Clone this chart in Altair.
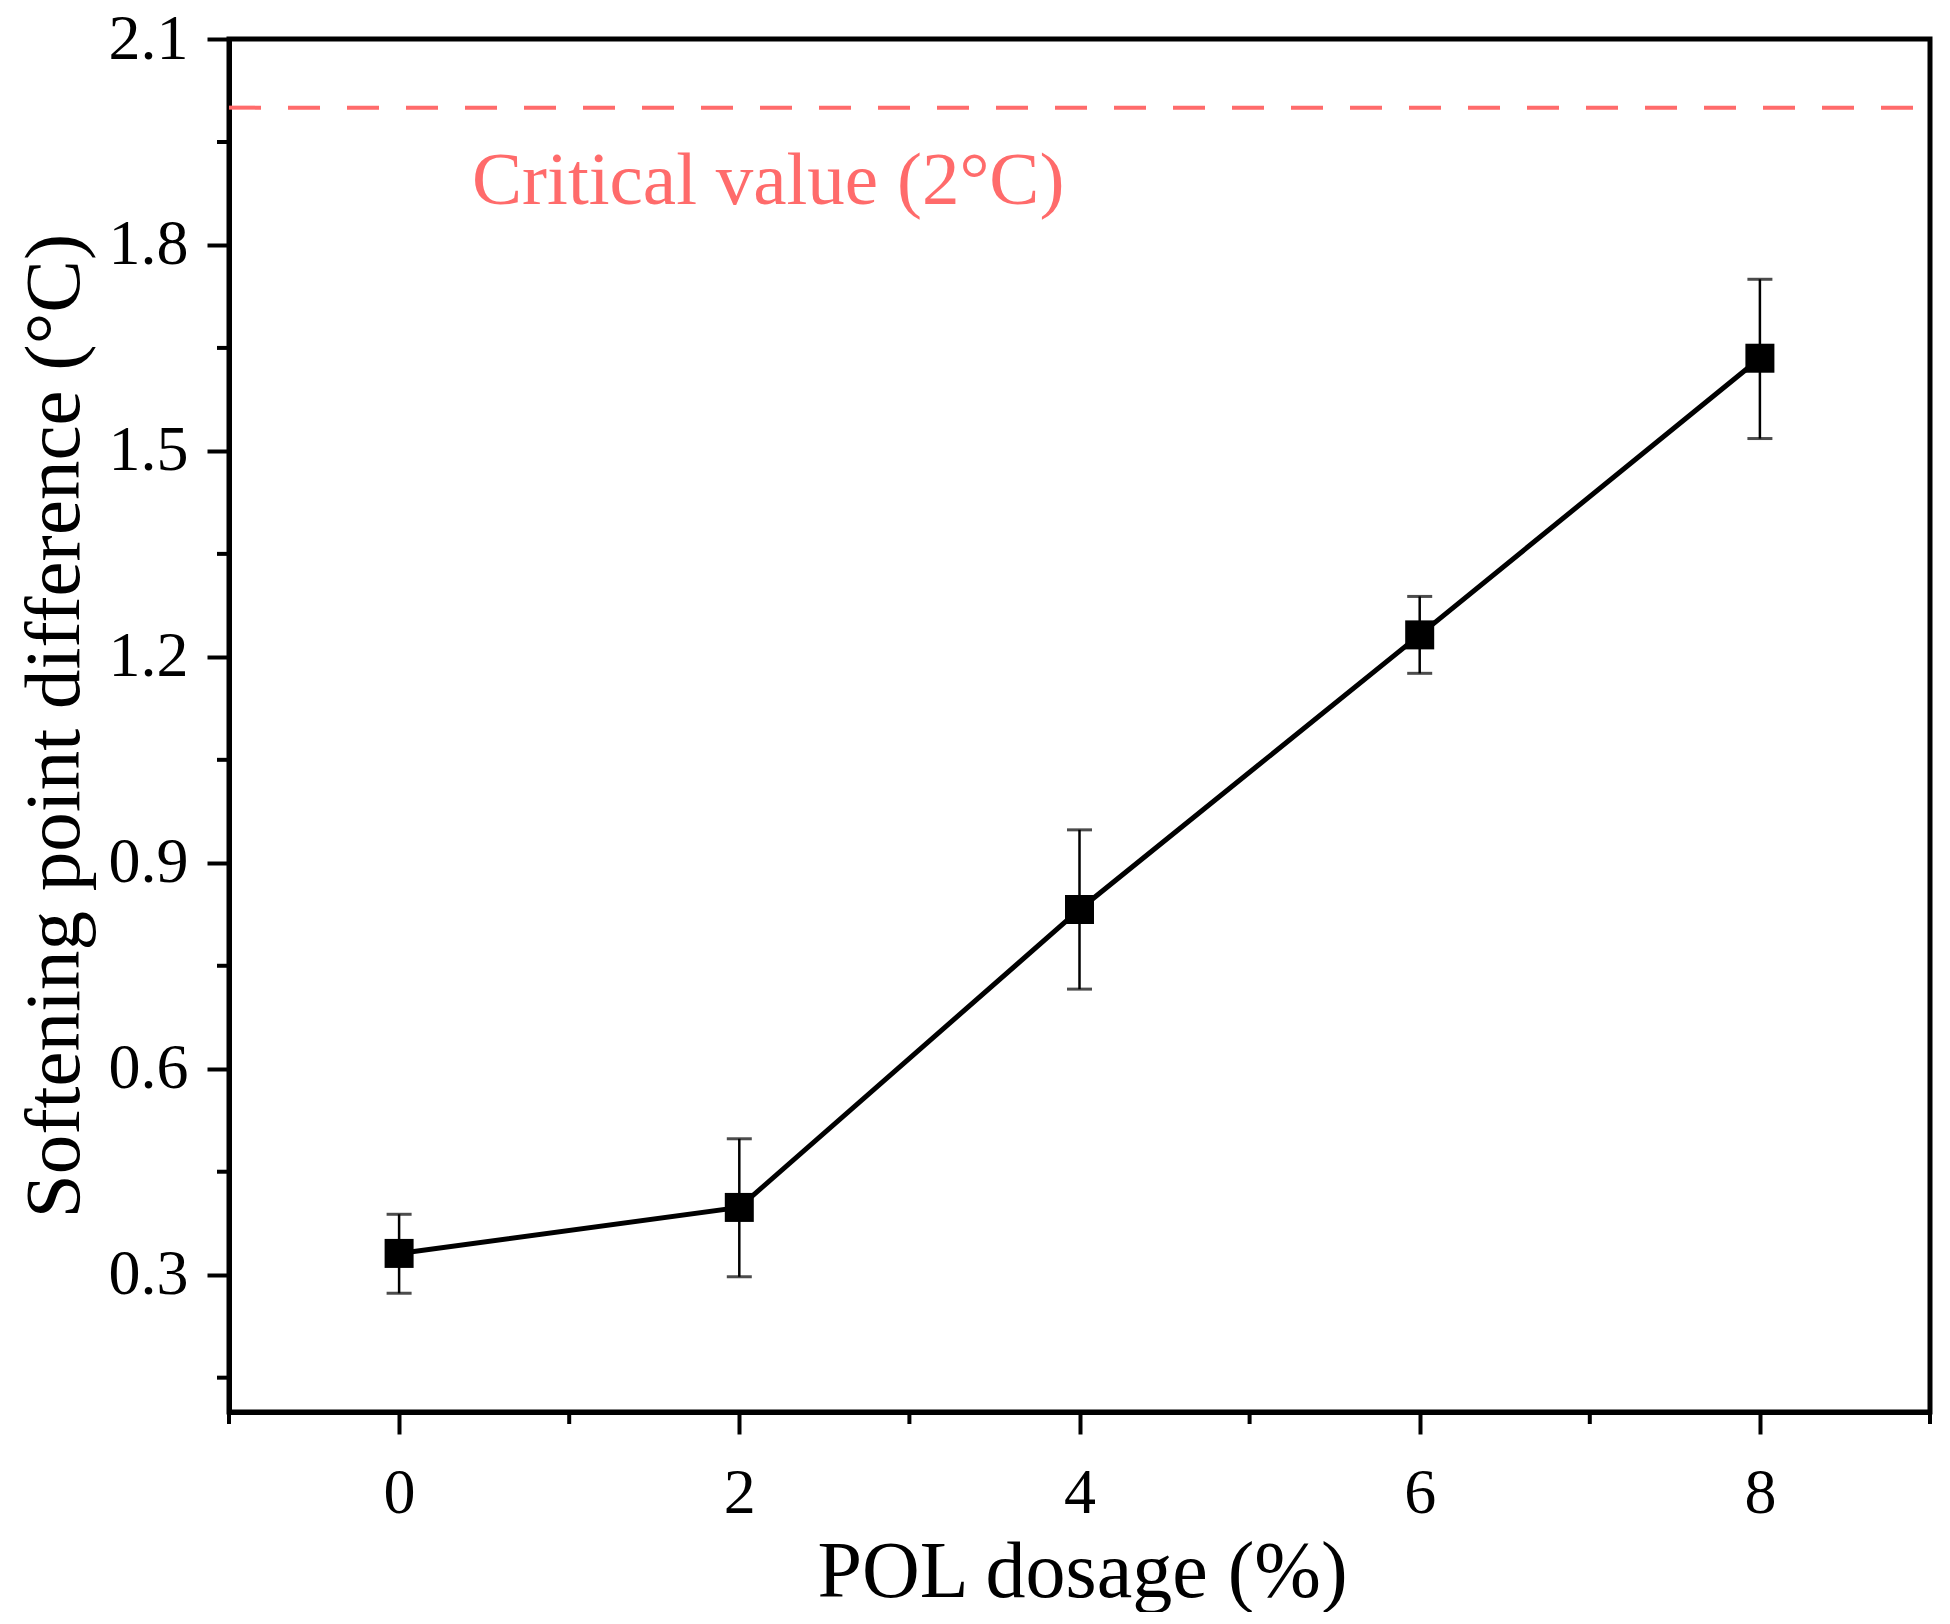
import altair as alt
import pandas as pd

# data
dosage = [0, 2, 4, 6, 8]
sp_diff = [0.331, 0.398, 0.832, 1.232, 1.635]
err_low = [0.273, 0.297, 0.716, 1.176, 1.518]
err_high = [0.388, 0.498, 0.948, 1.288, 1.750]

critical_value = [2.0]
critical_label = ["Critical value (2°C)"]
critical_label_x = [2.17]
critical_label_y = [1.893]

x_major = [0, 2, 4, 6, 8]
x_minor = [-1, 1, 3, 5, 7, 9]
y_major = [0.3, 0.6, 0.9, 1.2, 1.5, 1.8, 2.1]
y_minor = [0.15, 0.45, 0.75, 1.05, 1.35, 1.65, 1.95]

W, H = 1701, 1373
FONT = "Liberation Serif"
RED = "#FF6B6B"

df = pd.DataFrame({"x": dosage, "y": sp_diff, "lo": err_low, "hi": err_high})
crit = pd.DataFrame({"y": critical_value})
lab = pd.DataFrame({"x": critical_label_x, "y": critical_label_y, "t": critical_label})
xm = pd.DataFrame({"x": x_minor})
ym = pd.DataFrame({"y": y_minor})

xscale = alt.Scale(domain=[-1, 9], nice=False, zero=False)
yscale = alt.Scale(domain=[0.1, 2.1], nice=False, zero=False)

xaxis = alt.Axis(values=x_major, format="d", title="POL dosage (%)", grid=False,
                 tickSize=22, tickWidth=4, tickColor="black",
                 domainColor="black", domainWidth=5,
                 labelFont=FONT, labelFontSize=64, labelColor="black",
                 labelBaseline="alphabetic", labelPadding=78,
                 titleFont=FONT, titleFontSize=80, titleFontWeight="normal",
                 titleColor="black", titleBaseline="alphabetic",
                 titleX=853, titleY=184)
yaxis = alt.Axis(values=y_major, format=".1f", title="Softening point difference (°C)",
                 grid=False, tickSize=22, tickWidth=4, tickColor="black",
                 domainColor="black", domainWidth=5,
                 labelFont=FONT, labelFontSize=64, labelColor="black",
                 labelPadding=19,
                 titleFont=FONT, titleFontSize=79, titleFontWeight="normal",
                 titleColor="black", titleBaseline="alphabetic",
                 titleAngle=270, titleAlign="center", titleX=-151, titleY=H / 2)

base = alt.Chart(df)

crit_line = alt.Chart(crit).mark_rule(color=RED, strokeWidth=4, strokeDash=[32, 27]).encode(
    y=alt.Y("y:Q", scale=yscale, axis=yaxis),
    x=alt.value(0),
    x2=alt.value(W),
)
crit_text = alt.Chart(lab).mark_text(font=FONT, fontSize=75, color=RED,
                                     align="center", baseline="middle").encode(
    x=alt.X("x:Q", scale=xscale, axis=xaxis),
    y=alt.Y("y:Q", scale=yscale),
    text="t:N",
)

err_rule = base.mark_rule(color="black", strokeWidth=2.5).encode(
    x=alt.X("x:Q", scale=xscale, axis=xaxis),
    y=alt.Y("lo:Q", scale=yscale, axis=yaxis),
    y2="hi:Q",
)
cap_lo = base.mark_tick(color="black", orient="horizontal", size=25, thickness=3).encode(
    x=alt.X("x:Q", scale=xscale), y=alt.Y("lo:Q", scale=yscale)
)
cap_hi = base.mark_tick(color="black", orient="horizontal", size=25, thickness=3).encode(
    x=alt.X("x:Q", scale=xscale), y=alt.Y("hi:Q", scale=yscale)
)
line = base.mark_line(color="black", strokeWidth=5).encode(
    x=alt.X("x:Q", scale=xscale), y=alt.Y("y:Q", scale=yscale)
)
pts = base.mark_point(shape="square", filled=True, color="black", size=841, opacity=1).encode(
    x=alt.X("x:Q", scale=xscale), y=alt.Y("y:Q", scale=yscale)
)

x_minor_ticks = alt.Chart(xm).mark_rule(color="black", strokeWidth=4, clip=False).encode(
    x=alt.X("x:Q", scale=xscale), y=alt.value(H), y2=alt.value(H + 12)
)
y_minor_ticks = alt.Chart(ym).mark_rule(color="black", strokeWidth=4, clip=False).encode(
    y=alt.Y("y:Q", scale=yscale), x=alt.value(0), x2=alt.value(-12)
)

chart = alt.layer(
    crit_line, crit_text, err_rule, cap_lo, cap_hi, line, pts, x_minor_ticks, y_minor_ticks
).properties(
    width=W, height=H,
    autosize=alt.AutoSizeParams(type="none"),
    padding={"left": 221, "top": 31, "right": 10, "bottom": 200},
    background="white",
).configure_view(stroke="black", strokeWidth=5)

chart.save("out.html", embed_options={"renderer": "svg", "actions": False})
